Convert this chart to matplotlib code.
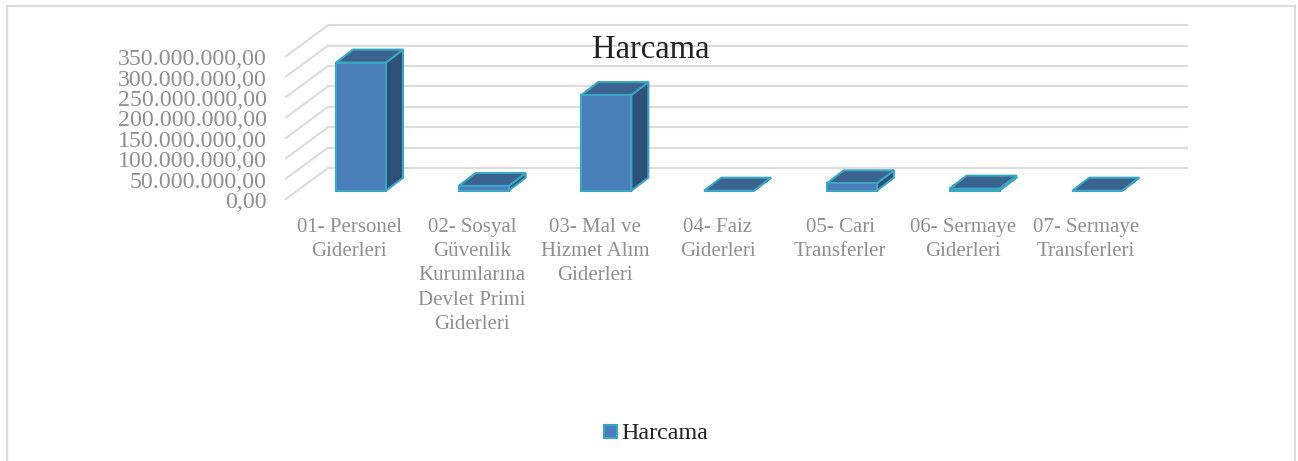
import matplotlib
matplotlib.use("Agg")
import matplotlib.pyplot as plt
from matplotlib.patches import Polygon, Rectangle
from matplotlib.transforms import ScaledTranslation

kategoriler = ["01- Personel\nGiderleri", "02- Sosyal\nGüvenlik\nKurumlarına\nDevlet Primi\nGiderleri",
               "03- Mal ve\nHizmet Alım\nGiderleri", "04- Faiz\nGiderleri", "05- Cari\nTransferler",
               "06- Sermaye\nGiderleri", "07- Sermaye\nTransferleri"]
harcama = [314000000, 11500000, 234500000, 0, 18000000, 5000000, 0]
tikler = [0, 50000000, 100000000, 150000000, 200000000, 250000000, 300000000, 350000000]
tik_labels = ["0,00", "50.000.000,00", "100.000.000,00", "150.000.000,00", "200.000.000,00",
              "250.000.000,00", "300.000.000,00", "350.000.000,00"]

W, H = 1298, 461
plt.rcParams["font.family"] = ["Liberation Serif", "DejaVu Serif"]
fig = plt.figure(figsize=(W / 100, H / 100), dpi=100)

# kader van de grafiek
fig.add_artist(Rectangle((7 / W, -0.05), 1288 / W, 1.05 - 5.7 / H, transform=fig.transFigure,
                         fill=False, edgecolor="#dcdcdc", linewidth=1.6))

# voorvlak van de 3d grafiek, in pixels gemeten
ax = fig.add_axes([286 / W, 1 - 199 / H, 859 / W, 142.8 / H])
ax.set_xlim(-0.5, 6.5)
ax.set_ylim(0, 350000000)
for s in ax.spines.values():
    s.set_visible(False)

px_x = 7 / 859            # 1 pixel in categorie-eenheden
px_y = 350000000 / 142.8  # 1 pixel in waarde-eenheden

# diepte van de vloer en de balken
vloer_x, vloer_y = 42 * px_x, 31 * px_y
start_y = 8.3 * px_y
diep_x, diep_y = 17 * px_x, 13 * px_y
breedte = 50 * px_x
midden = 13.6 * px_x

# rasterlijnen
for t in tikler:
    ax.plot([-0.5, -0.5 + vloer_x], [t, t + vloer_y], color="#dcdcdc", lw=1.5, clip_on=False, zorder=1)
    ax.plot([-0.5 + vloer_x, 6.5 + vloer_x], [t + vloer_y, t + vloer_y], color="#dcdcdc", lw=1.5,
            clip_on=False, zorder=1)

# balken
rand = "#3aa6c4"
for i, w in enumerate(harcama):
    x0 = i + midden - breedte / 2
    x1 = x0 + breedte
    y0 = start_y
    y1 = start_y + w
    ax.add_patch(Polygon([(x1, y0), (x1 + diep_x, y0 + diep_y), (x1 + diep_x, y1 + diep_y), (x1, y1)],
                         facecolor="#2f5078", edgecolor=rand, lw=1.5, clip_on=False, zorder=3))
    ax.add_patch(Polygon([(x0, y1), (x1, y1), (x1 + diep_x, y1 + diep_y), (x0 + diep_x, y1 + diep_y)],
                         facecolor="#3a6390", edgecolor=rand, lw=1.5, clip_on=False, zorder=3))
    ax.bar(i + midden, w, width=breedte, bottom=start_y, color="#4a7ebb", edgecolor=rand, lw=1.5,
           clip_on=False, zorder=4)

ax.set_yticks(tikler)
ax.set_yticklabels(tik_labels, fontsize=17.2, color="#8f8f8f")
ax.set_xticks(range(7))
ax.set_xticklabels(kategoriler, fontsize=15, color="#8f8f8f", linespacing=1.38)
ax.tick_params(axis="both", length=0)
ax.tick_params(axis="y", pad=14)
ax.tick_params(axis="x", pad=13.5)

# labels een klein beetje verschuiven
for lab in ax.get_yticklabels():
    lab.set_transform(lab.get_transform() + ScaledTranslation(0, -1 / 100, fig.dpi_scale_trans))
for lab in ax.get_xticklabels():
    lab.set_transform(lab.get_transform() + ScaledTranslation(2 / 100, 0, fig.dpi_scale_trans))

fig.text(651 / W, 1 - 50 / H, "Harcama", fontsize=23.5, color="#222222", ha="center", va="center")

# legenda
fig.add_artist(Rectangle((604 / W, 1 - 437.5 / H), 13 / W, 13 / H, transform=fig.transFigure,
                         facecolor="#4a7ebb", edgecolor=rand, linewidth=1.5))
fig.text(621 / W, 1 - 433 / H, "Harcama", fontsize=17.3, color="#222222", ha="left", va="center")

fig.savefig("out.png", dpi=100)
